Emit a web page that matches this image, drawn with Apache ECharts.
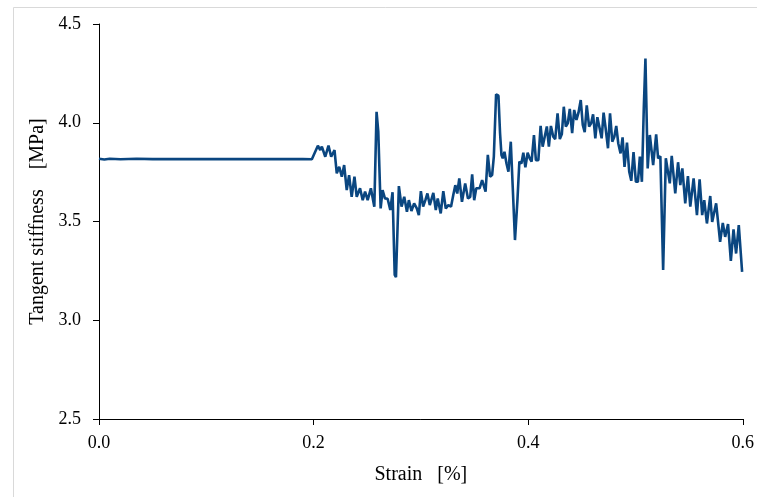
<!DOCTYPE html>
<html>
<head>
<meta charset="utf-8">
<script src="https://cdn.jsdelivr.net/npm/echarts@6/dist/echarts.min.js"></script>
<style>html,body{margin:0;padding:0;background:#fff}#chart{width:757px;height:497px}</style>
</head>
<body>
<div id="chart"></div>
<script>
// Strain [%]
const strain = [
0.0000,0.0050,0.0100,0.0200,0.0350,0.0500,0.1900,0.1984,
0.2040,0.2062,0.2077,0.2109,0.2139,0.2164,0.2195,0.2216,0.2239,0.2263,0.2285,0.2309,
0.2331,0.2355,0.2381,0.2402,0.2433,0.2458,0.2480,0.2504,0.2534,0.2566,0.2587,0.2603,
0.2625,0.2643,0.2665,0.2690,0.2715,0.2736,0.2756,0.2768,0.2795,0.2820,0.2845,0.2870,
0.2888,0.2912,0.2937,0.2962,0.2981,0.3000,0.3021,0.3042,0.3061,0.3083,0.3098,0.3116,
0.3139,0.3157,0.3185,0.3209,0.3232,0.3256,0.3281,0.3302,0.3321,0.3339,0.3358,0.3383,
0.3413,0.3439,0.3460,0.3478,0.3497,0.3516,0.3547,0.3571,0.3603,0.3624,0.3645,0.3664,
0.3680,0.3701,0.3723,0.3738,0.3751,0.3763,0.3779,0.3798,0.3816,0.3838,0.3856,0.3877,
0.3900,0.3918,0.3937,0.3955,0.3974,0.3995,0.4014,0.4032,0.4054,0.4072,0.4095,0.4116,
0.4135,0.4153,0.4174,0.4193,0.4212,0.4234,0.4252,0.4274,0.4295,0.4314,0.4332,0.4351,
0.4369,0.4388,0.4410,0.4429,0.4450,0.4469,0.4490,0.4509,0.4527,0.4546,0.4568,0.4587,
0.4605,0.4626,0.4645,0.4666,0.4685,0.4703,0.4722,0.4744,0.4763,0.4784,0.4803,0.4821,
0.4840,0.4861,0.4880,0.4898,0.4921,0.4942,0.4961,0.4982,0.5004,0.5023,0.5041,0.5060,
0.5078,0.5093,0.5114,0.5134,0.5165,0.5193,0.5211,0.5232,0.5258,0.5283,0.5301,0.5320,
0.5338,0.5371,0.5397,0.5418,0.5437,0.5464,0.5489,0.5511,0.5542,0.5573,0.5598,0.5622,
0.5641,0.5666,0.5697,0.5715,0.5752,0.5789,0.5814,0.5836,0.5863,0.5889,0.5914,0.5938,
0.5963,0.5994
];
// Tangent stiffness [MPa]
const stiffness = [
3.818,3.814,3.818,3.815,3.818,3.816,3.816,3.815,
3.884,3.862,3.879,3.828,3.884,3.828,3.862,3.744,3.777,3.727,3.786,3.659,
3.735,3.625,3.727,3.625,3.668,3.608,3.651,3.608,3.668,3.575,4.055,3.955,
3.566,3.659,3.617,3.615,3.558,3.648,3.230,3.218,3.679,3.575,3.625,3.549,
3.608,3.553,3.592,3.566,3.532,3.654,3.575,3.608,3.642,3.583,3.585,3.645,
3.558,3.617,3.541,3.654,3.566,3.583,3.575,3.634,3.684,3.642,3.718,3.600,
3.693,3.617,3.625,3.739,3.608,3.668,3.668,3.710,3.651,3.837,3.727,3.735,
3.828,4.144,4.137,3.947,3.837,3.820,3.853,3.794,3.752,3.904,3.676,3.406,
3.608,3.803,3.794,3.848,3.774,3.848,3.820,3.803,3.938,3.811,3.811,3.984,
3.879,3.879,3.981,3.879,3.984,3.929,3.917,4.048,3.917,3.943,4.081,3.981,
3.997,4.070,3.947,4.065,4.014,4.051,4.115,3.989,3.952,4.088,3.981,3.997,
4.043,3.921,4.028,3.972,3.921,4.051,3.972,3.871,4.048,3.904,3.929,3.984,
3.895,3.845,3.926,3.777,3.899,3.752,3.706,3.851,3.701,3.701,3.828,3.701,
4.081,4.325,3.769,3.938,3.786,3.941,3.820,3.830,3.254,3.820,3.810,3.693,
3.832,3.642,3.800,3.684,3.769,3.592,3.730,3.575,3.718,3.532,3.713,3.532,
3.608,3.490,3.629,3.498,3.592,3.397,3.493,3.422,3.487,3.301,3.460,3.338,
3.482,3.245
];
const xTicks = [0.0, 0.2, 0.4, 0.6];
const yTicks = [2.5, 3.0, 3.5, 4.0, 4.5];

const chart = echarts.init(document.getElementById('chart'), null, {renderer: 'canvas'});
const fontFam = '"Liberation Serif", "DejaVu Serif", serif';
chart.setOption({
  animation: false,
  backgroundColor: '#ffffff',
  graphic: [{
    type: 'rect', silent: true, z: -1,
    shape: {x: 13.5, y: 7.5, width: 800, height: 600},
    style: {fill: 'none', stroke: '#d9d9d9', lineWidth: 1}
  }],
  grid: {left: 99, right: 11, top: 24, bottom: 78, containLabel: false},
  xAxis: {
    type: 'value', min: xTicks[0], max: xTicks[xTicks.length-1], interval: 0.2,
    name: 'Strain   [%]', nameLocation: 'middle', nameGap: 46,
    nameTextStyle: {fontFamily: fontFam, fontSize: 20, color: '#000'},
    axisLine: {show: true, lineStyle: {color: '#000', width: 1}},
    axisTick: {show: true, inside: false, length: 6, lineStyle: {color: '#000'}},
    axisLabel: {margin: 15, fontFamily: fontFam, fontSize: 18, color: '#000',
      formatter: v => v.toFixed(1)},
    splitLine: {show: false}
  },
  yAxis: {
    type: 'value', min: yTicks[0], max: yTicks[yTicks.length-1], interval: 0.5,
    name: 'Tangent stiffness    [MPa]', nameLocation: 'middle', nameGap: 43, nameRotate: 90,
    nameTextStyle: {fontFamily: fontFam, fontSize: 20, color: '#000'},
    axisLine: {show: true, lineStyle: {color: '#000', width: 1}},
    axisTick: {show: true, inside: false, length: 6, lineStyle: {color: '#000'}},
    axisLabel: {margin: 18, fontFamily: fontFam, fontSize: 18, color: '#000',
      formatter: v => v.toFixed(1)},
    splitLine: {show: false}
  },
  series: [{
    type: 'line',
    data: strain.map((s, i) => [s, stiffness[i]]),
    showSymbol: false,
    smooth: false,
    lineStyle: {color: '#0a4680', width: 2.6},
    itemStyle: {color: '#0a4680'}
  }]
});
</script>
</body>
</html>
